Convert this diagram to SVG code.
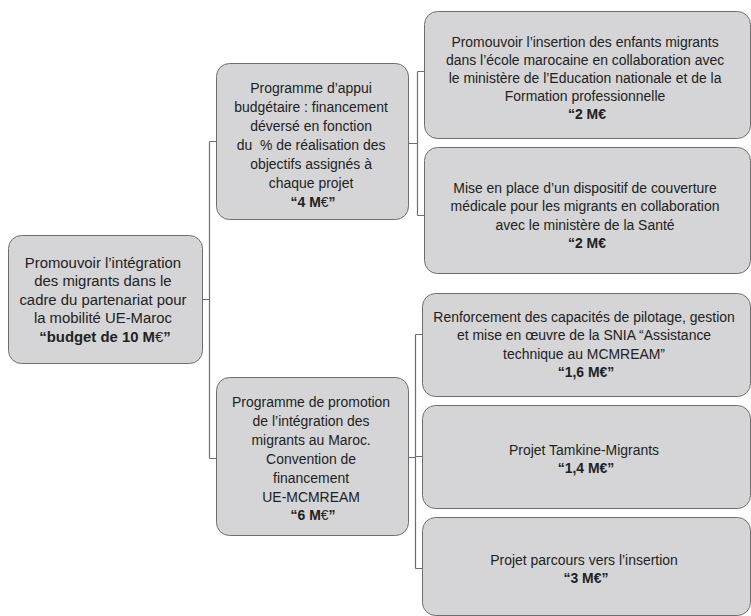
<svg xmlns="http://www.w3.org/2000/svg" width="751" height="616" viewBox="0 0 751 616">
<style>
.box{fill:#d5d5d7;stroke:#6e6e6e;stroke-width:1}
.con{fill:none;stroke:#6e6e6e;stroke-width:1.2}
text{font-family:"Liberation Sans",Arial,sans-serif;font-size:15.5px;fill:#222;text-anchor:middle}
.b{font-weight:bold}
.n{font-weight:normal}
</style>
<rect width="751" height="616" fill="#ffffff"/>
<g id="connectors">
<path class="con" d="M202 299.5H209.5M209.5 141.5V458.5M209.5 141.5H216.5M209.5 458.5H216.5"/>
<path class="con" d="M408.5 143.5H417.5M417.5 71.5V215.5M417.5 71.5H424.5M417.5 215.5H424.5"/>
<path class="con" d="M408.5 457.5H415.5M415.5 334.5V568.5M415.5 334.5H422.5M415.5 456.5H422.5M415.5 568.5H422.5"/>
</g>
<g id="root">
<rect class="box" x="8.5" y="235.5" width="194" height="128" rx="13"/>
<text transform="scale(0.96,1)">
<tspan x="109.4" y="268">Promouvoir l’intégration</tspan>
<tspan x="109.4" y="286.5">des migrants dans le</tspan>
<tspan x="109.4" y="305">cadre du partenariat pour</tspan>
<tspan x="109.4" y="323.5">la mobilité UE-Maroc</tspan>
<tspan x="109.4" y="342" class="b">“budget de 10 M<tspan class="n">€</tspan>”</tspan>
</text>
</g>
<g id="prog-appui">
<rect class="box" x="216.5" y="63.5" width="192" height="156" rx="13"/>
<text transform="scale(0.9,1)">
<tspan x="347.8" y="93">Programme d’appui</tspan>
<tspan x="347.8" y="112">budgétaire : financement</tspan>
<tspan x="347.8" y="131">déversé en fonction</tspan>
<tspan x="347.8" y="150">du&#160; % de réalisation des</tspan>
<tspan x="347.8" y="169">objectifs assignés à</tspan>
<tspan x="347.8" y="188">chaque projet</tspan>
<tspan x="347.8" y="207" class="b">“4 M<tspan class="n">€</tspan>”</tspan>
</text>
</g>
<g id="prog-promotion">
<rect class="box" x="216.5" y="377.5" width="192" height="158" rx="13"/>
<text transform="scale(0.9,1)">
<tspan x="347.8" y="407">Programme de promotion</tspan>
<tspan x="347.8" y="426">de l’intégration des</tspan>
<tspan x="347.8" y="445">migrants au Maroc.</tspan>
<tspan x="347.8" y="464">Convention de</tspan>
<tspan x="347.8" y="483">financement</tspan>
<tspan x="347.8" y="502">UE-MCMREAM</tspan>
<tspan x="347.8" y="520" class="b">“6 M<tspan class="n">€</tspan>”</tspan>
</text>
</g>
<g id="enfants">
<rect class="box" x="424.5" y="11.5" width="326" height="127" rx="13"/>
<text transform="scale(0.9,1)">
<tspan x="652.2" y="47">Promouvoir l’insertion des enfants migrants</tspan>
<tspan x="652.2" y="65">dans l’école marocaine en collaboration avec</tspan>
<tspan x="652.2" y="83">le ministère de l’Education nationale et de la</tspan>
<tspan x="652.2" y="101">Formation professionnelle</tspan>
<tspan x="652.2" y="119" class="b">“2 M€</tspan>
</text>
</g>
<g id="sante">
<rect class="box" x="424.5" y="147.5" width="326" height="126" rx="13"/>
<text transform="scale(0.9,1)">
<tspan x="652.2" y="193">Mise en place d’un dispositif de couverture</tspan>
<tspan x="652.2" y="211.5">médicale pour les migrants en collaboration</tspan>
<tspan x="652.2" y="230">avec le ministère de la Santé</tspan>
<tspan x="652.2" y="248" class="b">“2 M€</tspan>
</text>
</g>
<g id="snia">
<rect class="box" x="422.5" y="293.5" width="328" height="103" rx="13"/>
<text transform="scale(0.9,1)">
<tspan x="651.1" y="322">Renforcement des capacités de pilotage, gestion</tspan>
<tspan x="651.1" y="340">et mise en œuvre de la SNIA “Assistance</tspan>
<tspan x="651.1" y="359">technique au MCMREAM”</tspan>
<tspan x="651.1" y="377" class="b">“1,6 M€”</tspan>
</text>
</g>
<g id="tamkine">
<rect class="box" x="422.5" y="405.5" width="328" height="103" rx="13"/>
<text transform="scale(0.9,1)">
<tspan x="651.1" y="455">Projet Tamkine-Migrants</tspan>
<tspan x="651.1" y="473" class="b">“1,4 M€”</tspan>
</text>
</g>
<g id="parcours">
<rect class="box" x="422.5" y="517.5" width="328" height="98" rx="13"/>
<text transform="scale(0.9,1)">
<tspan x="651.1" y="565">Projet parcours vers l’insertion</tspan>
<tspan x="651.1" y="583" class="b">“3 M€”</tspan>
</text>
</g>
</svg>
